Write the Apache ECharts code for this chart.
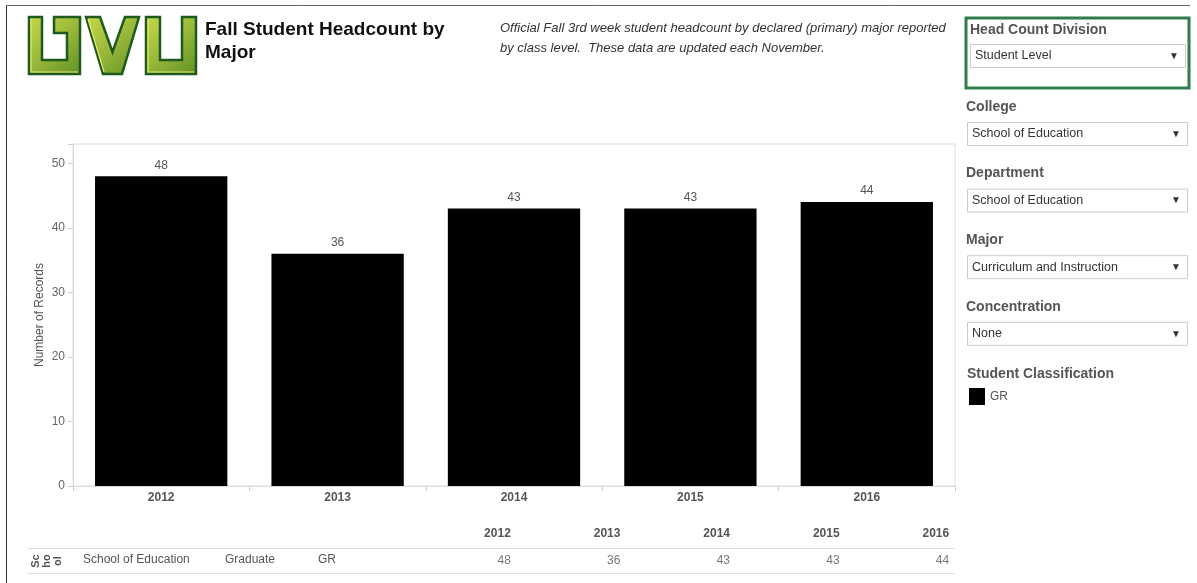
<!DOCTYPE html>
<html>
<head>
<meta charset="utf-8">
<script src="https://cdn.jsdelivr.net/npm/echarts@6/dist/echarts.min.js"></script>
<style>
html,body{margin:0;padding:0;background:#fff;}
#chart{width:1197px;height:583px;}
</style>
</head>
<body>
<div id="chart"></div>
<script>
// ---- data ----
const categories = ['2012', '2013', '2014', '2015', '2016'];
const counts = [48, 36, 43, 43, 44];
const yTicks = [0, 10, 20, 30, 40, 50];
const seriesName = 'GR';
const rowHeaders = ['School of Education', 'Graduate', 'GR'];
const rowGroup = 'Sc\nho\nol';
const titleText = 'Fall Student Headcount by\nMajor';
const subtitleText = 'Official Fall 3rd week student headcount by declared (primary) major reported\nby class level.  These data are updated each November.';
const divisionLabel = 'Head Count Division';
const divisionValue = 'Student Level';
const filterLabels = ['College', 'Department', 'Major', 'Concentration'];
const filterValues = ['School of Education', 'School of Education', 'Curriculum and Instruction', 'None'];
const legendTitle = 'Student Classification';

const FONT = "'Liberation Sans', Arial, sans-serif";
const chart = echarts.init(document.getElementById('chart'), null, {renderer: 'canvas'});

// ---- decorative graphics ----
const graphics = [];
// outer frame
graphics.push({type: 'line', shape: {x1: 6.5, y1: 5.5, x2: 1190, y2: 5.5}, style: {stroke: '#666', lineWidth: 1}, silent: true});
graphics.push({type: 'line', shape: {x1: 6.5, y1: 5.5, x2: 6.5, y2: 583}, style: {stroke: '#333', lineWidth: 1}, silent: true});

// logo
const logoFill = new echarts.graphic.LinearGradient(0, 0, 1, 1, [
  {offset: 0, color: '#c9d94a'}, {offset: 0.5, color: '#98b83a'}, {offset: 1, color: '#5e8f24'}
]);
function letter(points) {
  graphics.push({type: 'polygon', shape: {points: points}, style: {fill: logoFill, stroke: '#1d5a1d', lineWidth: 2.5, lineJoin: 'miter'}, silent: true});
}
// U (with hook)
letter([[29,17],[42,17],[42,60],[67,60],[67,33],[54,33],[54,17],[80,17],[80,74],[29,74]]);
// V
letter([[86,17],[100,17],[112.5,52],[125,17],[139,17],[122,74],[103,74]]);
// U
letter([[146,17],[160,17],[160,60],[182,60],[182,17],[196,17],[196,74],[146,74]]);
// inner bevel lines
[[ [31,19],[31,72],[78,72] ], [ [88,19],[104,72] ], [ [148,19],[148,72],[194,72] ]].forEach(function (p) {
  graphics.push({type: 'polyline', shape: {points: p}, style: {stroke: '#e3ea6a', lineWidth: 1.2, fill: null}, silent: true});
});

// Table lines
graphics.push({type: 'line', shape: {x1: 28, y1: 548.5, x2: 955, y2: 548.5}, style: {stroke: '#ddd', lineWidth: 1}, silent: true});
graphics.push({type: 'line', shape: {x1: 28, y1: 573.5, x2: 955, y2: 573.5}, style: {stroke: '#ddd', lineWidth: 1}, silent: true});
// row headers
const rowX = [83, 225, 318];
rowHeaders.forEach(function (t, i) {
  graphics.push({type: 'text', x: rowX[i], y: 560, style: {text: t, font: '12px ' + FONT, fill: '#555', verticalAlign: 'middle', align: 'left'}, silent: true});
});
graphics.push({type: 'text', x: 30, y: 561, rotation: Math.PI / 2, style: {text: rowGroup, font: 'bold 11px ' + FONT, fill: '#555', verticalAlign: 'top', align: 'center', lineHeight: 11}, silent: true});

// Right panel
graphics.push({type: 'rect', shape: {x: 966, y: 18, width: 223, height: 70}, style: {fill: 'none', stroke: '#2e7d4b', lineWidth: 3}, silent: true});
function dropdown(label, value, labelX, labelY, boxX, boxY, boxW) {
  graphics.push({type: 'text', x: labelX, y: labelY, style: {text: label, font: 'bold 14px ' + FONT, fill: '#555', verticalAlign: 'middle'}, silent: true});
  graphics.push({type: 'rect', shape: {x: boxX + 0.5, y: boxY + 0.5, width: boxW, height: 23}, style: {fill: '#fff', stroke: '#ccc', lineWidth: 1}, silent: true});
  graphics.push({type: 'text', x: boxX + 5, y: boxY + 12, style: {text: value, font: '12.5px ' + FONT, fill: '#333', verticalAlign: 'middle'}, silent: true});
  graphics.push({type: 'text', x: boxX + boxW - 11, y: boxY + 12, style: {text: '▼', font: '10px ' + FONT, fill: '#333', verticalAlign: 'middle', align: 'center'}, silent: true});
}
dropdown(divisionLabel, divisionValue, 970, 30, 970, 44, 215);
filterLabels.forEach(function (lab, i) {
  const ly = 107 + i * 66.6;
  dropdown(lab, filterValues[i], 966, ly, 967, ly + 15, 220);
});
graphics.push({type: 'text', x: 967, y: 374, style: {text: legendTitle, font: 'bold 14px ' + FONT, fill: '#555', verticalAlign: 'middle'}, silent: true});

const option = {
  animation: false,
  backgroundColor: '#fff',
  textStyle: {fontFamily: FONT},
  title: [
    {text: titleText, left: 205, top: 18, padding: 0, textStyle: {fontFamily: FONT, fontSize: 19, fontWeight: 'bold', color: '#111', lineHeight: 23}},
    {text: subtitleText, left: 500, top: 18, padding: 0, textStyle: {fontFamily: FONT, fontSize: 13, fontWeight: 'normal', fontStyle: 'italic', color: '#333', lineHeight: 20}}
  ],
  legend: {
    data: [seriesName], left: 969, top: 388, padding: 0, orient: 'vertical', icon: 'rect', itemWidth: 16, itemHeight: 17, itemGap: 5,
    textStyle: {fontFamily: FONT, fontSize: 12, color: '#555'}, selectedMode: false
  },
  grid: [
    {left: 73, top: 144, right: 242, bottom: 97, show: true, borderColor: '#ddd', borderWidth: 1, containLabel: false},
    {left: 456, top: 548, right: 193, height: 25, containLabel: false}
  ],
  xAxis: [
    {
      type: 'category', data: categories, gridIndex: 0,
      axisLine: {show: true, lineStyle: {color: '#ddd'}},
      axisTick: {show: true, interval: 0, length: 5, lineStyle: {color: '#ccc'}},
      axisLabel: {fontFamily: FONT, fontSize: 12, fontWeight: 'bold', color: '#555', margin: 6}
    },
    {
      type: 'category', data: categories, gridIndex: 1, position: 'top',
      axisLine: {show: false}, axisTick: {show: false},
      axisLabel: {fontFamily: FONT, fontSize: 12, fontWeight: 'bold', color: '#555', align: 'right', margin: 8}
    }
  ],
  yAxis: [
    {
      type: 'value', gridIndex: 0, min: 0, max: 53, interval: 10,
      name: 'Number of Records', nameLocation: 'middle', nameGap: 27, nameMoveOverlap: false,
      nameTextStyle: {fontFamily: FONT, fontSize: 12, color: '#555'},
      splitLine: {show: false},
      axisLine: {show: true, lineStyle: {color: '#ddd'}},
      axisTick: {show: true, length: 5, lineStyle: {color: '#ccc'}},
      axisLabel: {fontFamily: FONT, fontSize: 12, color: '#666', margin: 8,
        formatter: function (v) { return yTicks.indexOf(v) >= 0 ? String(v) : ''; }}
    },
    {type: 'category', gridIndex: 1, data: [seriesName], show: false}
  ],
  series: [
    {
      name: seriesName, type: 'bar', data: counts, barWidth: '75%',
      itemStyle: {color: '#000'},
      label: {show: true, position: 'top', distance: 5, color: '#555', fontSize: 12, fontFamily: FONT}
    },
    {
      type: 'scatter', xAxisIndex: 1, yAxisIndex: 1, symbolSize: 1,
      itemStyle: {color: 'rgba(0,0,0,0)'},
      data: categories.map(function (c, i) { return [c, seriesName, counts[i]]; }),
      label: {show: true, position: 'inside', align: 'right', color: '#555', fontSize: 12, fontFamily: FONT,
        formatter: function (p) { return String(p.value[2]); }}
    }
  ],
  graphic: graphics
};
chart.setOption(option);
</script>
</body>
</html>
